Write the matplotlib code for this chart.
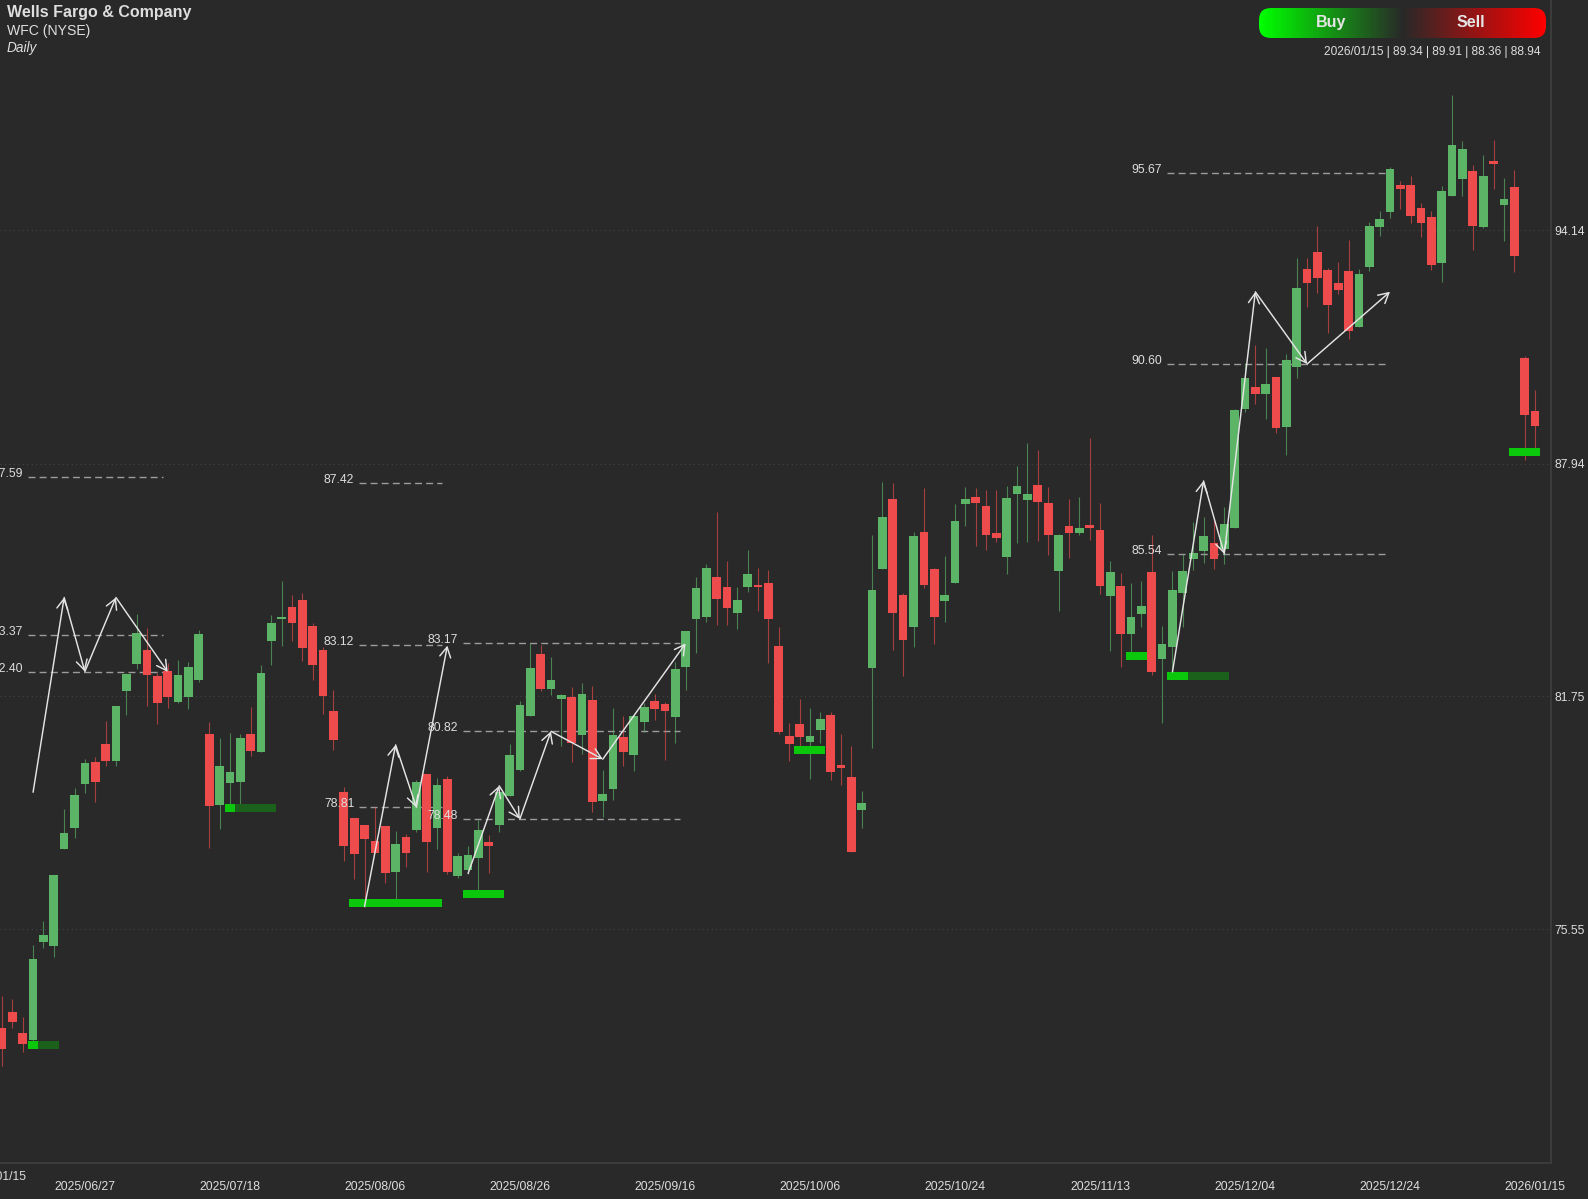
import numpy as np
import matplotlib
matplotlib.use("Agg")
import matplotlib.pyplot as plt
from matplotlib.colors import LinearSegmentedColormap
from matplotlib.patches import FancyBboxPatch

plt.rcParams['font.family'] = ['Liberation Sans', 'DejaVu Sans']

# daily candles, one row per column
opens = [72.92, 73.35, 72.79, 72.61, 75.22, 75.11, 77.70, 78.26, 79.42, 80.00,
         80.48, 80.03, 81.90, 82.62, 82.97, 82.29, 82.43, 81.59, 81.73, 82.19,
         80.75, 78.87, 79.45, 79.48, 80.75, 80.26, 83.21, 83.82, 84.12, 84.31,
         83.63, 82.98, 81.35, 79.20, 78.52, 78.34, 77.90, 78.29, 77.09, 78.00,
         78.20, 79.69, 78.25, 79.54, 76.97, 77.13, 77.46, 77.88, 78.32, 79.10,
         79.79, 81.24, 82.88, 81.95, 81.69, 81.73, 80.73, 81.65, 78.98, 79.29,
         80.66, 80.18, 81.08, 81.62, 81.56, 81.19, 82.54, 83.81, 83.85, 84.92,
         84.67, 83.98, 84.67, 84.71, 84.76, 83.10, 80.70, 81.02, 80.54, 80.85,
         81.25, 79.92, 79.61, 78.72, 82.50, 85.15, 86.99, 84.45, 83.60, 86.12,
         85.15, 84.29, 84.77, 86.87, 87.05, 86.80, 86.09, 85.46, 87.12, 86.98,
         87.37, 86.89, 85.09, 86.28, 86.09, 86.31, 86.17, 84.43, 84.69, 83.40,
         83.95, 85.06, 82.75, 83.07, 84.51, 85.40, 85.62, 85.83, 85.67, 86.24,
         89.38, 89.99, 89.80, 90.24, 88.92, 90.52, 93.11, 93.57, 93.08, 92.75,
         93.06, 91.58, 93.18, 94.22, 94.62, 95.34, 95.35, 94.73, 94.50, 93.28,
         95.06, 95.50, 95.71, 94.24, 95.99, 94.81, 95.29, 90.75, 89.34]
highs = [73.78, 73.71, 73.21, 75.13, 75.77, 77.00, 78.75, 79.30, 80.08, 80.13,
         81.09, 81.49, 82.36, 83.93, 83.58, 82.38, 82.65, 82.72, 82.66, 83.51,
         81.06, 80.64, 80.77, 80.76, 81.46, 82.58, 83.91, 84.81, 84.45, 84.49,
         83.69, 83.07, 81.91, 79.33, 78.52, 78.34, 78.81, 78.29, 78.17, 78.08,
         79.53, 79.69, 79.57, 79.63, 77.59, 77.77, 78.46, 78.06, 79.35, 80.48,
         81.62, 83.18, 83.12, 82.80, 81.80, 82.00, 82.11, 82.02, 79.79, 81.43,
         81.23, 81.25, 81.57, 81.80, 81.59, 82.67, 83.50, 84.92, 85.26, 86.64,
         85.36, 84.65, 85.63, 85.17, 85.11, 83.60, 81.03, 81.67, 81.45, 81.34,
         81.33, 80.74, 80.42, 79.22, 86.04, 87.46, 87.42, 84.51, 86.12, 87.29,
         85.16, 85.47, 86.87, 87.33, 87.28, 87.24, 87.25, 87.34, 87.88, 88.48,
         88.30, 87.33, 86.06, 86.99, 87.04, 88.63, 86.88, 85.34, 85.04, 84.76,
         84.81, 86.03, 83.62, 85.08, 85.54, 86.38, 86.52, 86.44, 86.78, 89.40,
         90.61, 91.09, 91.01, 90.24, 90.85, 93.41, 93.40, 94.25, 93.13, 93.31,
         93.88, 93.11, 94.36, 94.66, 95.82, 95.45, 95.58, 94.86, 94.67, 95.32,
         97.74, 96.53, 95.87, 96.14, 96.54, 95.53, 95.74, 90.79, 89.91]
lows = [71.92, 72.92, 72.30, 72.55, 75.07, 74.81, 77.70, 77.99, 79.19, 78.95,
        79.91, 79.91, 81.25, 82.49, 81.49, 81.02, 81.45, 81.58, 81.42, 82.12,
        77.73, 78.21, 78.88, 78.86, 80.17, 80.26, 82.59, 83.10, 83.22, 82.70,
        82.19, 81.29, 80.32, 77.38, 76.90, 76.16, 77.59, 76.78, 76.34, 77.21,
        78.15, 77.08, 77.70, 77.03, 76.91, 77.03, 76.60, 77.06, 78.13, 79.10,
        79.77, 81.24, 81.90, 81.79, 80.44, 80.00, 80.21, 78.68, 78.54, 78.99,
        79.91, 79.77, 80.79, 81.12, 80.06, 80.52, 81.92, 82.91, 83.74, 83.65,
        83.65, 83.55, 84.53, 84.02, 82.65, 80.76, 80.03, 80.43, 79.55, 80.52,
        79.53, 79.40, 77.62, 78.26, 80.39, 85.15, 82.99, 82.30, 83.07, 84.64,
        83.13, 83.74, 84.76, 86.29, 85.76, 85.65, 85.86, 85.00, 85.84, 85.86,
        85.89, 85.51, 84.03, 85.44, 86.03, 85.91, 84.46, 82.95, 82.53, 82.94,
        83.60, 82.31, 81.05, 82.40, 83.60, 85.12, 85.29, 85.15, 85.27, 86.24,
        89.30, 89.53, 89.13, 88.76, 88.18, 90.21, 92.11, 92.47, 91.42, 92.45,
        91.26, 91.58, 93.05, 94.00, 94.46, 94.71, 94.35, 93.98, 93.09, 92.78,
        95.06, 95.06, 93.62, 94.21, 95.24, 93.86, 93.04, 88.04, 88.36]
closes = [72.36, 73.10, 72.51, 74.76, 75.40, 77.00, 78.11, 79.12, 79.97, 79.46,
          80.04, 81.49, 82.35, 83.43, 82.31, 81.58, 81.73, 82.33, 82.52, 83.40,
          78.84, 79.89, 79.74, 80.63, 80.31, 82.37, 83.71, 83.87, 83.69, 83.03,
          82.59, 81.77, 80.59, 77.77, 77.57, 77.96, 77.59, 77.05, 77.83, 77.59,
          79.47, 77.89, 79.38, 77.09, 77.50, 77.54, 78.19, 77.78, 79.20, 80.18,
          81.52, 82.51, 81.95, 82.19, 81.78, 80.52, 81.82, 78.95, 79.15, 80.72,
          80.27, 81.23, 81.47, 81.41, 81.37, 82.47, 83.50, 84.62, 85.17, 84.34,
          84.09, 84.31, 85.01, 84.67, 83.81, 80.81, 80.47, 80.66, 80.70, 81.14,
          79.73, 79.85, 77.62, 78.91, 84.58, 86.52, 83.98, 83.25, 86.02, 84.71,
          83.87, 84.45, 86.41, 87.00, 86.88, 86.05, 85.96, 87.02, 87.34, 87.12,
          86.93, 86.04, 86.04, 86.09, 86.23, 86.24, 84.69, 85.05, 83.40, 83.87,
          84.14, 82.39, 83.14, 84.59, 85.08, 85.57, 86.01, 85.40, 86.33, 89.37,
          90.21, 89.80, 90.06, 88.90, 90.69, 92.61, 92.75, 92.87, 92.16, 92.56,
          91.48, 92.98, 94.26, 94.44, 95.78, 95.25, 94.53, 94.33, 93.21, 95.19,
          96.41, 96.30, 94.26, 95.58, 95.92, 94.98, 93.47, 89.23, 88.94]

tick_pos = [8, 22, 36, 50, 64, 78, 92, 106, 120, 134, 148]
tick_labels = ['2025/06/27', '2025/07/18', '2025/08/06', '2025/08/26', '2025/09/16',
               '2025/10/06', '2025/10/24', '2025/11/13', '2025/12/04', '2025/12/24',
               '2026/01/15']
price_ticks = [75.55, 81.75, 87.94, 94.14]

# level, from bar, to bar, labelled
levels = [(87.59, 2.5, 15.5), (83.37, 2.5, 15.5), (82.40, 2.5, 15.5),
          (87.42, 34.5, 42.5), (83.12, 34.5, 42.5), (78.81, 34.5, 42.5),
          (83.17, 44.5, 65.5), (80.82, 44.5, 65.5), (78.48, 44.5, 65.5),
          (95.67, 112.5, 133.5), (90.60, 112.5, 133.5), (85.54, 112.5, 133.5)]

# zig zag legs: bar, price
wave_bars = [[3, 6, 8, 11, 16],
             [35, 38, 40, 43],
             [45, 48, 50, 53, 58, 66],
             [113, 116, 118, 121, 126, 134]]
wave_prices = [[79.20, 84.38, 82.41, 84.38, 82.40],
               [76.16, 80.46, 78.80, 83.10],
               [77.04, 79.37, 78.49, 80.82, 80.08, 83.16],
               [82.40, 87.48, 85.54, 92.51, 90.59, 92.51]]

# zones: low, high, from bar, end of bright part, to bar
zones = [(72.37, 72.58, 2.5, 3.5, 5.5), (78.67, 78.88, 21.5, 22.5, 26.5),
         (76.15, 76.35, 33.5, 42.5, 42.5), (76.39, 76.60, 44.5, 48.5, 48.5),
         (80.22, 80.43, 76.5, 79.5, 79.5), (82.72, 82.93, 108.5, 110.5, 110.5),
         (82.19, 82.40, 112.5, 114.5, 118.5), (88.14, 88.36, 145.5, 148.5, 148.5)]

W, H = 1588, 1199
BG = '#292929'
GREEN = '#5cb566'
RED = '#ee4c4c'
TXT = '#dedede'
FS = 8.7

fig = plt.figure(figsize=(W / 100, H / 100), dpi=100, facecolor=BG)
ax = fig.add_axes([0, 1 - 1163 / H, 1551 / W, 1163 / H], facecolor=BG)

n = len(opens)
idx = np.arange(n)
o = np.array(opens)
c = np.array(closes)
up = c >= o
cols = np.where(up, GREEN, RED)

for p in price_ticks:
    ax.axhline(p, color='#454545', lw=0.8, ls=(0, (1, 3)), zorder=1)

for lev, a, b in levels:
    ax.plot([a, b], [lev, lev], color='#9c9c9c', lw=1.0, ls=(0, (5, 3)), zorder=2)

ax.vlines(idx, lows, highs, colors=cols, lw=0.8, alpha=0.65, zorder=3)
body = np.maximum(np.abs(c - o), 0.05)
ax.bar(idx, body, bottom=np.minimum(o, c), width=0.84, color=cols, zorder=4)

for lo, hi, a, mid, b in zones:
    ax.fill_between([a, mid], lo, hi, color='#0cc80c', lw=0, zorder=5)
    if b > mid:
        ax.fill_between([mid, b], lo, hi, color='#1b611b', lw=0, zorder=5)

for bars, prices in zip(wave_bars, wave_prices):
    for k in range(len(bars) - 1):
        ax.annotate('', xy=(bars[k + 1], prices[k + 1]), xytext=(bars[k], prices[k]),
                    arrowprops=dict(arrowstyle='->,head_length=0.6,head_width=0.33',
                                    color='#e4e4e4', lw=1.05, shrinkA=0, shrinkB=0,
                                    mutation_scale=12), zorder=6)

for lev, a, b in levels:
    ax.annotate('%.2f' % lev, xy=(a, lev), xytext=(-5, 3), textcoords='offset pixels',
                ha='right', va='center', color=TXT, fontsize=FS, zorder=7)

ax.set_xlim((0 - 2) / 10.358, (1551 - 2) / 10.358)
ax.set_ylim(94.14 - (1163 - 230.5) / 37.6, 94.14 + 230.5 / 37.6)

ax.set_xticks(tick_pos)
ax.set_xticklabels(tick_labels)
ax.yaxis.tick_right()
ax.set_yticks(price_ticks)
ax.set_yticklabels(['%.2f' % p for p in price_ticks])
ax.tick_params(axis='x', length=0, pad=13, labelsize=FS, colors=TXT)
ax.tick_params(axis='y', length=0, pad=2.3, labelsize=FS, colors=TXT)
for s in ['top', 'left']:
    ax.spines[s].set_visible(False)
for s in ['right', 'bottom']:
    ax.spines[s].set_color('#3c3c3c')
    ax.spines[s].set_linewidth(1.4)

# clipped label at the left edge, sits a row higher
fig.text(26 / W, 1 - 1177.5 / H, '2025/01/15', ha='right', va='center', color=TXT, fontsize=FS)

fig.text(7 / W, 1 - 13 / H, 'Wells Fargo & Company', color=TXT, fontsize=11.5,
         fontweight='bold', va='center')
fig.text(7 / W, 1 - 31.5 / H, 'WFC (NYSE)', color=TXT, fontsize=10.1, va='center')
fig.text(7 / W, 1 - 48 / H, 'Daily', color=TXT, fontsize=9.8, style='italic', va='center')
fig.text(1541 / W, 1 - 52 / H, '2026/01/15 | 89.34 | 89.91 | 88.36 | 88.94', color=TXT,
         fontsize=8.55, ha='right', va='center')

# buy / sell pill
pill = fig.add_axes([1259 / W, 1 - 38 / H, 287 / W, 30 / H])
pill.axis('off')
cmap = LinearSegmentedColormap.from_list('bs', ['#00ff00', '#292929', '#ff0000'])
grad = np.linspace(0, 1, 287).reshape(1, -1)
im = pill.imshow(grad, cmap=cmap, extent=[0, 287, 0, 30], aspect='auto')
clip = FancyBboxPatch((0, 0), 287, 30, boxstyle='round,pad=0,rounding_size=12',
                      transform=pill.transData, fc='none', ec='none')
pill.add_patch(clip)
im.set_clip_path(clip)
pill.text(72.5, 15.5, 'Buy', color='#e6e6e6', fontsize=11.5, fontweight='bold',
          ha='center', va='center')
pill.text(211.5, 15.5, 'Sell', color='#e6e6e6', fontsize=11.5, fontweight='bold',
          ha='center', va='center')

fig.savefig('out.png', dpi=100, facecolor=BG)
